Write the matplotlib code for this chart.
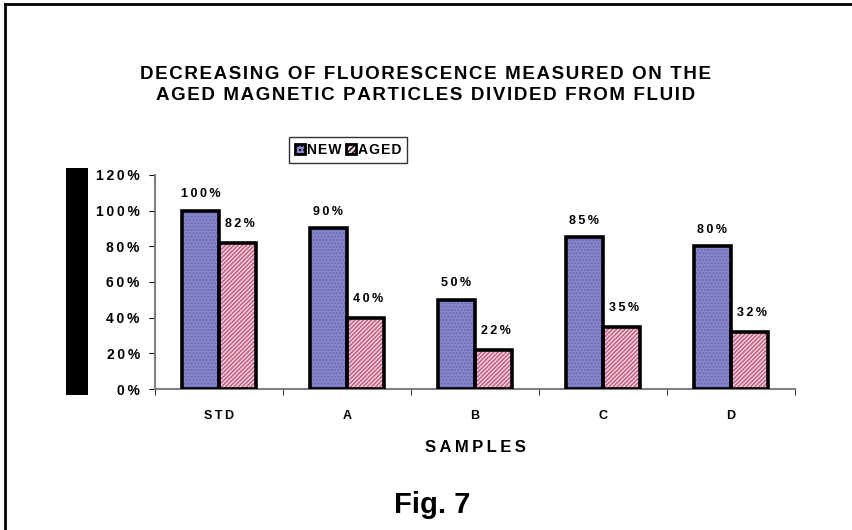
import numpy as np
import matplotlib
matplotlib.use('Agg')
import matplotlib.pyplot as plt
from matplotlib.patches import Rectangle, Patch

plt.rcParams['font.family'] = ['Liberation Sans', 'DejaVu Sans']
plt.rcParams['font.weight'] = 'bold'
plt.rcParams['hatch.linewidth'] = 1.0

# data
samples = ['STD', 'A', 'B', 'C', 'D']
new_vals = [100, 90, 50, 85, 80]
aged_vals = [82, 40, 22, 35, 32]
yticks = [0, 20, 40, 60, 80, 100, 120]

THIN = '\u2009'
HAIR = '\u200a'


def spaced(s, gap=HAIR):
    # the original was rendered with wide letter spacing
    return '\n'.join(gap.join(ch for ch in line) for line in s.split('\n'))


fig = plt.figure(figsize=(8.52, 5.30), dpi=100)
ax = fig.add_axes([0.182, 0.266, 0.751, 0.404])

x = np.arange(len(samples))
w = 0.29

# hatched fill first, then thick black outline on top
ax.bar(x - w / 2, new_vals, w, color='#8686cc', edgecolor='#6868b4',
       hatch='.....', linewidth=0, zorder=2)
ax.bar(x + w / 2, aged_vals, w, color='#f2d0dc', edgecolor='#c05a7c',
       hatch='////////', linewidth=0, zorder=2)
ax.bar(x - w / 2, new_vals, w, facecolor='none', edgecolor='black', linewidth=2.6, zorder=3)
ax.bar(x + w / 2, aged_vals, w, facecolor='none', edgecolor='black', linewidth=2.6, zorder=3)

for xi, v in zip(x - w / 2, new_vals):
    ax.text(xi, v + 6, spaced(f'{v}%', THIN), ha='center', va='bottom', fontsize=9, fontweight='bold')
for xi, v in zip(x + w / 2, aged_vals):
    ax.text(xi + 0.02, v + 7, spaced(f'{v}%', THIN), ha='center', va='bottom', fontsize=9, fontweight='bold')

ax.set_xlim(-0.5, len(samples) - 0.5)
ax.set_ylim(0, 120)
ax.set_yticks(yticks)
ax.set_yticklabels([spaced(f'{t}%', THIN) for t in yticks], fontsize=10, fontweight='bold')
ax.set_xticks(x)
ax.set_xticklabels([spaced(s, THIN) for s in samples], fontsize=9, fontweight='bold')
ax.set_xticks(np.arange(len(samples) + 1) - 0.5, minor=True)
ax.tick_params(axis='x', which='major', length=0, pad=15)
ax.tick_params(axis='x', which='minor', length=4, color='black', direction='out')
ax.tick_params(axis='y', length=4, direction='out', color='black', pad=7)

for s in ['top', 'right']:
    ax.spines[s].set_visible(False)
ax.spines['left'].set_color('#808080')
ax.spines['bottom'].set_color('#808080')
ax.spines['left'].set_linewidth(1.5)
ax.spines['bottom'].set_linewidth(1.5)

ax.set_xlabel(spaced('SAMPLES', THIN), fontsize=12, fontweight='bold', labelpad=13)

fig.text(0.5, 1 - 85 / 530,
         spaced('DECREASING OF FLUORESCENCE MEASURED ON THE\nAGED MAGNETIC PARTICLES DIVIDED FROM FLUID'),
         ha='center', va='center', fontsize=13.5, fontweight='bold', linespacing=1.25)

handles = [Patch(facecolor='#8686cc', edgecolor='black', linewidth=2, hatch='....'),
           Patch(facecolor='#f2d0dc', edgecolor='black', linewidth=2, hatch='//////')]
leg = fig.legend(handles, [spaced('NEW'), spaced('AGED')], loc='center', ncol=2,
                 bbox_to_anchor=(348 / 852, 1 - 150 / 530),
                 frameon=True, fancybox=False, handlelength=0.75,
                 handleheight=0.75, handletextpad=0.1, columnspacing=0.35,
                 borderpad=0.4, borderaxespad=0, prop={'weight': 'bold', 'size': 10})
leg.get_frame().set_edgecolor('black')
leg.get_frame().set_linewidth(1.0)

fig.text(432 / 852, 1 - 505 / 530, 'Fig. 7', ha='center', va='center',
         fontsize=21, fontweight='bold')

# dark block at the left of the plot area
fig.patches.append(Rectangle((66 / 852, 1 - 395 / 530), 22 / 852, 227 / 530,
                             transform=fig.transFigure, facecolor='black',
                             edgecolor='none'))

# outer frame (top and left edges)
fig.add_artist(plt.Line2D([5 / 852, 5 / 852], [0, 1 - 4 / 530], color='black',
                          linewidth=2, transform=fig.transFigure))
fig.add_artist(plt.Line2D([5 / 852, 1], [1 - 4 / 530, 1 - 4 / 530], color='black',
                          linewidth=2, transform=fig.transFigure))

fig.savefig('out.png', dpi=100)
